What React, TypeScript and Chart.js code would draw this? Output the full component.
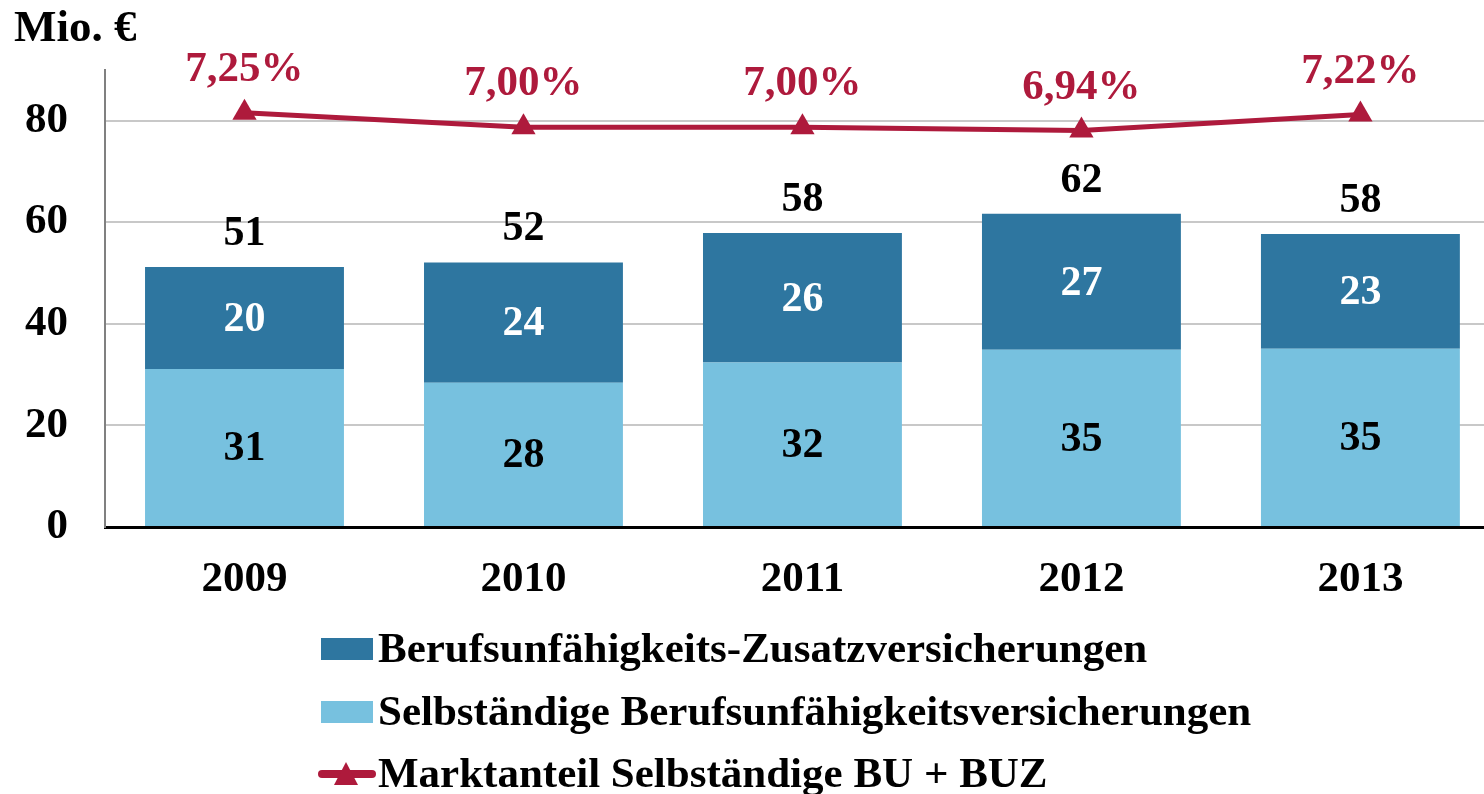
import React, { useEffect, useRef } from 'react';
import { Chart, registerables } from 'chart.js';
Chart.register(...registerables);

const years = ['2009', '2010', '2011', '2012', '2013'];
const selbstaendigeBU = [31.1, 28.4, 32.4, 34.9, 35.1];
const buz = [20.1, 23.7, 25.5, 26.8, 22.6];
const marktanteil = [7.25, 7.0, 7.0, 6.94, 7.22];
const yTicks = [0, 20, 40, 60, 80];

const legendLabels = [
  'Berufsunfähigkeits-Zusatzversicherungen',
  'Selbständige Berufsunfähigkeitsversicherungen',
  'Marktanteil Selbständige BU + BUZ',
];

const DARK = '#2E76A0';
const LIGHT = '#77C1DF';
const RED = '#AE1A3C';
const FONT = '"Liberation Serif", "Times New Roman", serif';

const fmtPct = (v: number) => v.toFixed(2).replace('.', ',') + '%';
const toXY = (arr: number[]) => arr.map((y, i) => ({ x: i, y }));

export default function App() {
  const ref = useRef<HTMLCanvasElement | null>(null);

  useEffect(() => {
    if (!ref.current) return;

    const labelsPlugin = {
      id: 'valueLabels',
      afterDatasetsDraw(chart: any) {
        const ctx = chart.ctx;
        ctx.save();
        ctx.textAlign = 'center';
        ctx.textBaseline = 'middle';
        const lightMeta = chart.getDatasetMeta(0);
        const darkMeta = chart.getDatasetMeta(1);
        const lineMeta = chart.getDatasetMeta(2);
        years.forEach((_, i) => {
          const l = lightMeta.data[i] as any;
          const d = darkMeta.data[i] as any;
          const p = lineMeta.data[i] as any;
          ctx.font = `bold 42px ${FONT}`;
          ctx.fillStyle = '#000';
          ctx.fillText(String(Math.round(selbstaendigeBU[i])), l.x, (l.y + l.base) / 2 + 2);
          ctx.fillStyle = '#fff';
          ctx.fillText(String(Math.round(buz[i])), d.x, (d.y + d.base) / 2 + 2);
          ctx.fillStyle = '#000';
          ctx.fillText(String(Math.round(selbstaendigeBU[i] + buz[i])), d.x, d.y - 33);
          ctx.font = `bold 43px ${FONT}`;
          ctx.fillStyle = RED;
          ctx.fillText(fmtPct(marktanteil[i]), p.x, p.y - 43);
        });
        ctx.restore();
      },
    };

    const legendPlugin = {
      id: 'customLegend',
      afterDraw(chart: any) {
        const ctx = chart.ctx;
        ctx.save();
        ctx.font = `bold 45px ${FONT}`;
        ctx.fillStyle = '#000';
        ctx.textAlign = 'left';
        ctx.textBaseline = 'middle';
        ctx.fillText('Mio. €', 14, 29);

        const rows = [649, 712, 774];
        const colors = [DARK, LIGHT];
        ctx.font = `bold 43px ${FONT}`;
        rows.forEach((y, i) => {
          if (i < 2) {
            ctx.fillStyle = colors[i];
            ctx.fillRect(321, y - 11, 52, 22);
          } else {
            ctx.strokeStyle = RED;
            ctx.lineWidth = 8;
            ctx.lineCap = 'round';
            ctx.beginPath();
            ctx.moveTo(322, y);
            ctx.lineTo(372, y);
            ctx.stroke();
            ctx.fillStyle = RED;
            ctx.beginPath();
            ctx.moveTo(346, y - 12);
            ctx.lineTo(358, y + 11);
            ctx.lineTo(334, y + 11);
            ctx.closePath();
            ctx.fill();
          }
          ctx.fillStyle = '#000';
          ctx.fillText(legendLabels[i], 378, y + 2);
        });
        ctx.restore();
      },
    };

    const chart = new Chart(ref.current, {
      type: 'bar',
      data: {
        datasets: [
          {
            type: 'bar',
            label: legendLabels[1],
            data: toXY(selbstaendigeBU),
            backgroundColor: LIGHT,
            stack: 's',
            order: 2,
            categoryPercentage: 1,
            barPercentage: 0.713,
          },
          {
            type: 'bar',
            label: legendLabels[0],
            data: toXY(buz),
            backgroundColor: DARK,
            stack: 's',
            order: 2,
            categoryPercentage: 1,
            barPercentage: 0.713,
          },
          {
            type: 'line',
            label: legendLabels[2],
            data: toXY(marktanteil),
            yAxisID: 'y1',
            borderColor: RED,
            backgroundColor: RED,
            borderWidth: 5,
            pointStyle: 'triangle',
            pointRadius: 14,
            pointBorderWidth: 0,
            pointBackgroundColor: RED,
            order: 0,
          } as any,
        ],
      },
      options: {
        responsive: false,
        animation: false,
        devicePixelRatio: 1,
        layout: { autoPadding: false, padding: { top: 70, left: 0, right: 0, bottom: 0 } },
        plugins: {
          legend: { display: false },
          tooltip: { enabled: false },
          title: { display: false },
        },
        scales: {
          x: {
            type: 'linear',
            stacked: true,
            min: -0.5,
            max: 4.443,
            offset: false,
            afterBuildTicks: (s: any) => {
              s.ticks = years.map((_, i) => ({ value: i }));
            },
            grid: { display: false, drawTicks: false },
            border: { display: true, color: '#000', width: 3 },
            ticks: {
              color: '#000',
              font: { family: FONT, size: 43, weight: 'bold' },
              padding: 27,
              maxRotation: 0,
              autoSkip: false,
              callback: (v: number) => years[v] ?? '',
            },
            afterFit: (s: any) => {
              s.height = 267;
            },
          },
          y: {
            stacked: true,
            min: 0,
            max: 90,
            afterBuildTicks: (s: any) => {
              s.ticks = yTicks.map((v) => ({ value: v }));
            },
            grid: { color: '#C8C8C8', lineWidth: 2, drawTicks: false },
            border: { display: true, color: '#808080', width: 2 },
            ticks: {
              color: '#000',
              font: { family: FONT, size: 43, weight: 'bold' },
              padding: 37,
            },
            afterFit: (s: any) => {
              s.width = 105;
            },
          },
          y1: {
            display: false,
            min: 0,
            max: 8,
            position: 'right',
            grid: { display: false },
          },
        },
      } as any,
      plugins: [labelsPlugin, legendPlugin],
    });

    return () => chart.destroy();
  }, []);

  return (
    <div
      style={{
        position: 'fixed',
        left: 0,
        top: 0,
        width: 1484,
        height: 794,
        overflow: 'hidden',
        background: '#fff',
      }}
    >
      <canvas ref={ref} width={1484} height={794} style={{ width: 1484, height: 794, display: 'block' }} />
    </div>
  );
}
